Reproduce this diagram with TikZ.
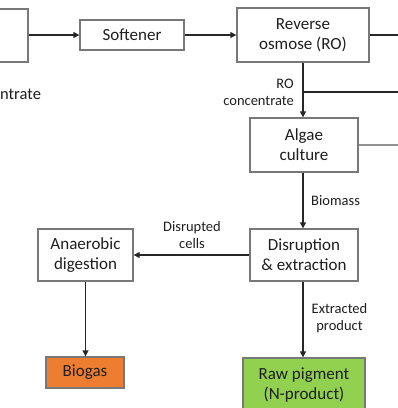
\documentclass[tikz,border=0pt]{standalone}
\usepackage{fontspec}
\setmainfont{Carlito}
\usetikzlibrary{arrows.meta}
\definecolor{boxline}{RGB}{120,120,120}
\definecolor{txt}{RGB}{30,30,30}
\definecolor{orangefill}{RGB}{237,125,49}
\definecolor{greenfill}{RGB}{146,208,80}
\tikzset{
  box/.style={draw=boxline, line width=1.3pt, fill=white, rectangle, inner sep=0pt, align=center,
    text=txt, font=\fontsize{17}{20}\selectfont},
  lbl/.style={inner sep=0pt, text=txt, font=\fontsize{14.5}{17}\selectfont},
  arr/.style={line width=1.3pt, draw=black!85, -{Triangle[length=6pt,width=6pt]}},
  ln/.style={line width=1.3pt, draw=black!85},
  gln/.style={line width=1.2pt, draw=boxline!80}
}
\begin{document}
\begin{tikzpicture}[x=1pt,y=-1pt]
\useasboundingbox (0,0) rectangle (398,408);
\clip (0,0) rectangle (398,408);
\node[box, minimum width=56pt, minimum height=53pt] (src) at (0,35.5) {};
\node[box, minimum width=104pt, minimum height=30pt] (soft) at (132,35) {Softener};
\node[box, minimum width=132pt, minimum height=54pt] (ro) at (303,35) {Reverse\\osmose (RO)};
\node[box, minimum width=108pt, minimum height=54pt] (algae) at (304,145) {Algae\\culture};
\node[box, minimum width=108pt, minimum height=52pt] (dis) at (304,255) {Disruption\\\& extraction};
\node[box, minimum width=95pt, minimum height=52pt] (ana) at (85.5,255) {Anaerobic\\digestion};
\node[box, fill=orangefill, minimum width=78pt, minimum height=31pt] (bio) at (85,372.5) {Biogas};
\node[box, fill=greenfill, minimum width=122pt, minimum height=54pt] (raw) at (304,385) {Raw pigment\\(N-product)};

\coordinate (roR) at (399,35);
\coordinate (br) at (303,92);
\coordinate (brR) at (399,92);
\coordinate (alR) at (399,145);

\draw[arr] (src.east |- soft.west) -- (soft.west);
\draw[arr] (soft.east) -- (ro.west);
\draw[ln] (ro.east) -- (roR);
\draw[arr] (ro.south -| br) -- (algae.north -| br);
\draw[ln] (br) -- (brR);
\draw[gln] (algae.east) -- (alR);
\draw[arr] (algae.south -| br) -- (dis.north -| br);
\draw[arr] (dis.west) -- (ana.east);
\draw[arr] (ana.south) -- (bio.north -| ana.south);
\draw[arr] (dis.south -| br) -- (raw.north -| br);

\node[lbl, anchor=east, align=right] (lroc) at (294,92.5) {RO\\concentrate};
\node[lbl, anchor=west] (lbio) at (311,201) {Biomass};
\node[lbl, align=center] (ldis) at (192,235.5) {Disrupted\\cells};
\node[lbl, align=center] (lext) at (339.5,318) {Extracted\\product};
\node[lbl, anchor=west, font=\fontsize{16.5}{20}\selectfont] (lcon) at (0,94.5) {ntrate};
\end{tikzpicture}
\end{document}
